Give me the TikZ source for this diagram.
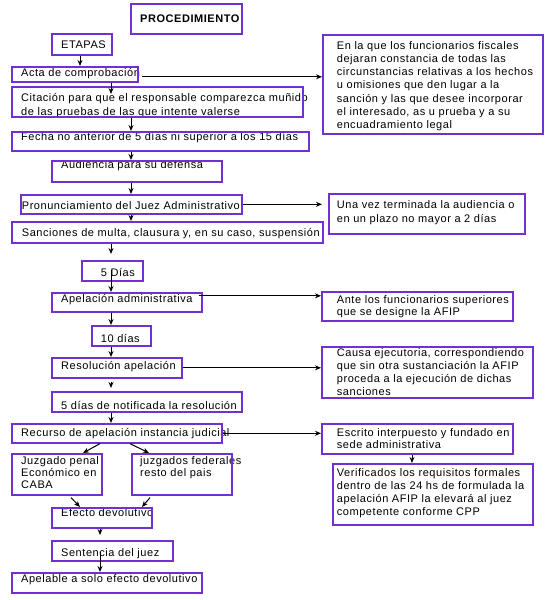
\documentclass[tikz,border=0pt]{standalone}
\usepackage{fontspec}
\setmainfont{Liberation Sans}[LetterSpace=5]
\usetikzlibrary{arrows.meta}
\definecolor{boxc}{RGB}{112,48,210}
\tikzset{
  box/.style={draw=boxc, line width=1.6pt, anchor=north west, inner sep=0pt},
  txt/.style={anchor=base west, inner sep=0pt, font=\fontsize{11}{13.3}\selectfont},
  arr/.style={draw=black, line width=1pt, -{Stealth[length=6pt,width=5pt]}}
}
\newcommand\bx[5]{\node[box, minimum width={(#4-#2)*1pt}, minimum height={(#5-#3)*1pt}] (#1) at (#2,#3) {};}
\newcommand\pb[2]{\parbox[t]{#1pt}{\raggedright #2}}
\begin{document}
\begin{tikzpicture}[x=1pt,y=-1pt]
\fill[white] (0,0) rectangle (550,600);
\path[use as bounding box] (0,0) rectangle (550,600);
% texts
\node[txt, font=\fontsize{11}{13.3}\selectfont\bfseries] (proc-t) at (140,22) {PROCEDIMIENTO};
\node[txt] (etapas-t) at (61,48.3) {ETAPAS};
\node[txt] (acta-t) at (21,76) {Acta de comprobación};
\node[txt] (cit-t) at (21,101.7) {\pb{300}{Citación para que el responsable comparezca muñido\\de las pruebas de las que intente valerse}};
\node[txt] (fecha-t) at (21,140.7) {Fecha no anterior de 5 días ni superior a los 15 días};
\node[txt] (aud-t) at (61,168.3) {Audiencia para su defensa};
\node[txt] (pron-t) at (21.7,209) {Pronunciamiento del Juez Administrativo};
\node[txt] (sanc-t) at (21.7,236.7) {Sanciones de multa, clausura y, en su caso, suspensión};
\node[txt] (d5-t) at (100.7,276) {5 Días};
\node[txt] (apel-t) at (61,302.3) {Apelación administrativa};
\node[txt] (d10-t) at (100.7,342.7) {10 días};
\node[txt] (resol-t) at (61,369) {Resolución apelación};
\node[txt] (notif-t) at (61,409) {5 días de notificada la resolución};
\node[txt] (recu-t) at (21,436.7) {Recurso de apelación instancia judicial};
\node[txt, font=\fontsize{11}{12.3}\selectfont] (jpen-t) at (21,464) {\pb{100}{Juzgado penal\\Económico en\\CABA}};
\node[txt, font=\fontsize{11}{12.3}\selectfont] (jfed-t) at (140,464) {\pb{120}{juzgados federales\\resto del pais}};
\node[txt] (efec-t) at (61,516.7) {Efecto devolutivo};
\node[txt] (sent-t) at (61,556.7) {Sentencia del juez};
\node[txt] (apeb-t) at (21,582.7) {Apelable a solo efecto devolutivo};
\node[txt] (r1-t) at (336.7,49) {\pb{210}{En la que los funcionarios fiscales\\dejaran constancia de todas las\\circunstancias relativas a los hechos\\u omisiones que den lugar a la\\sanción y las que desee incorporar\\el interesado, as u prueba y a su\\encuadramiento legal}};
\node[txt] (r2-t) at (336.7,208.7) {\pb{190}{Una vez terminada la audiencia o\\en un plazo no mayor a 2 días}};
\node[txt, font=\fontsize{11}{12}\selectfont] (r3-t) at (336.7,303.3) {\pb{180}{Ante los funcionarios superiores\\que se designe la AFIP}};
\node[txt, font=\fontsize{11}{13}\selectfont] (r4-t) at (336.7,356) {\pb{200}{Causa ejecutoria, correspondiendo\\que sin otra sustanciación la AFIP\\proceda a la ejecución de dichas\\sanciones}};
\node[txt, font=\fontsize{11}{12.3}\selectfont] (r5-t) at (336.7,436) {\pb{180}{Escrito interpuesto y fundado en\\sede administrativa}};
\node[txt] (r6-t) at (336.7,476) {\pb{200}{Verificados los requisitos formales\\dentro de las 24 hs de formulada la\\apelación AFIP la elevará al juez\\competente conforme CPP}};
% boxes
\bx{proc}{130}{3}{241}{33}
\bx{etapas}{51}{33}{111}{54}
\bx{acta}{11}{66}{137}{81}
\bx{cit}{11}{86}{302}{116}
\bx{fecha}{11}{131}{308}{150}
\bx{aud}{51}{160}{221}{181}
\bx{pron}{20}{194}{241}{213}
\bx{sanc}{11}{221}{322}{242}
\bx{d5}{81}{260}{142}{280}
\bx{apel}{51}{292}{201}{311}
\bx{d10}{91}{325}{150}{345}
\bx{resol}{51}{357}{181}{377}
\bx{notif}{51}{391}{241}{411}
\bx{recu}{11}{423}{221}{442}
\bx{jpen}{11}{453}{101}{494}
\bx{jfed}{131}{453}{231}{494}
\bx{efec}{51}{507}{151}{527}
\bx{sent}{51}{540}{172}{560}
\bx{apeb}{11}{572}{201}{592}
\bx{r1}{322}{34}{542}{133}
\bx{r2}{328}{193}{524}{233}
\bx{r3}{321}{291}{512}{320}
\bx{r4}{321}{346}{532}{397}
\bx{r5}{321}{423}{512}{453}
\bx{r6}{332}{463}{532}{524}
% vertical connectors
\draw[arr] ([xshift=29pt]etapas.south west) -- ([xshift=29pt]etapas.south west |- acta.north);
\draw[arr] ([xshift=100pt]acta.south west) -- ([xshift=100pt,yshift=-8pt]cit.north west);
\draw[arr] ([xshift=120pt]cit.south west) -- ([xshift=120pt]fecha.north west);
\draw[arr] ([xshift=120pt]fecha.south west) -- ([xshift=80pt]aud.north west);
\draw[arr] ([xshift=80pt]aud.south west) -- ([xshift=111pt]pron.north west);
\draw[arr] ([xshift=111pt]pron.south west) -- ([xshift=120pt]sanc.north west);
\draw[arr] ([xshift=100pt]sanc.south west) -- ([xshift=30pt,yshift=6pt]d5.north west);
\draw[arr] ([xshift=30pt,yshift=-10pt]d5.north west) -- ([xshift=60pt]apel.north west);
\draw[arr] ([xshift=60pt]apel.south west) -- ([xshift=20pt]d10.north west);
\draw[arr] ([xshift=20pt]d10.south west) -- ([xshift=60pt]resol.north west);
\draw[arr] ([xshift=60pt,yshift=-3pt]resol.south west) -- ([xshift=60pt,yshift=3pt]notif.north west);
\draw[arr] ([xshift=60pt]notif.south west) -- ([xshift=100pt]recu.north west);
\draw[arr] ([xshift=89pt]recu.south west) -- ([xshift=72pt]jpen.north west);
\draw[arr] ([xshift=119pt]recu.south west) -- ([xshift=18pt]jfed.north west);
\draw[arr] ([xshift=60pt,yshift=-2pt]jpen.south west) -- ([xshift=29pt]efec.north west);
\draw[arr] ([xshift=19pt,yshift=-2pt]jfed.south west) -- ([xshift=91pt]efec.north west);
\draw[arr] ([xshift=49pt]efec.south west) -- ([xshift=49pt,yshift=5pt]sent.north west);
\draw[arr] ([xshift=49pt,yshift=-12pt]sent.north west) -- ([xshift=89pt]apeb.north west);
\draw[arr] ([xshift=91pt]r5.south west) -- ([xshift=80pt]r6.north west);
% horizontal connectors
\draw[arr] ([xshift=3pt,yshift=-2.5pt]acta.east) -- ([yshift=-2.5pt]acta.east -| r1.west);
\draw[arr] (pron.east) -- ([xshift=-6pt]pron.east -| r2.west);
\draw[arr] ([xshift=-4pt,yshift=6.5pt]apel.east) -- ([yshift=6.5pt]apel.east -| r3.west);
\draw[arr] (resol.east) -- (resol.east -| r4.west);
\draw[arr] (recu.east) -- (recu.east -| r5.west);
\end{tikzpicture}
\end{document}
